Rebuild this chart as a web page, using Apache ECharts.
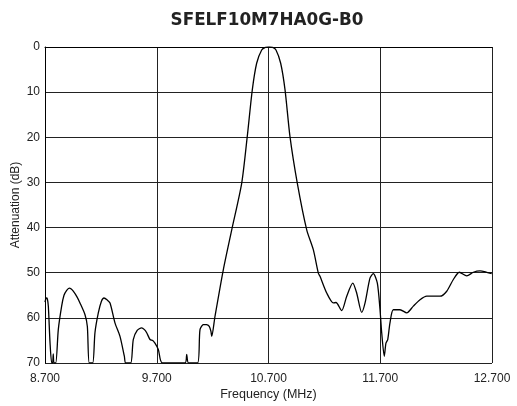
<!DOCTYPE html>
<html><head><meta charset="utf-8">
<script src="https://cdn.jsdelivr.net/npm/echarts@6/dist/echarts.min.js"></script>
<style>html,body{margin:0;padding:0;background:#fff}#c{width:517px;height:406px}</style>
</head><body><div id="c"></div>
<script>
const titleText = "SFELF10M7HA0G-B0";
const xTickLabels = ["8.700", "9.700", "10.700", "11.700", "12.700"];
const yTickLabels = [0, 10, 20, 30, 40, 50, 60, 70];
const freq = [8.700, 8.712, 8.721, 8.730, 8.745, 8.760, 8.768, 8.774, 8.780, 8.796, 8.819, 8.849, 8.870, 8.894, 8.917, 8.935, 8.953, 8.985, 9.013, 9.058, 9.079, 9.096, 9.127, 9.147, 9.177, 9.205, 9.228, 9.255, 9.282, 9.326, 9.371, 9.410, 9.422, 9.467, 9.490, 9.525, 9.565, 9.590, 9.610, 9.640, 9.664, 9.684, 9.714, 9.750, 9.953, 9.968, 9.984, 10.065, 10.087, 10.117, 10.145, 10.170, 10.185, 10.192, 10.221, 10.296, 10.371, 10.460, 10.510, 10.555, 10.594, 10.639, 10.672, 10.704, 10.737, 10.767, 10.809, 10.848, 10.892, 10.958, 11.042, 11.101, 11.146, 11.161, 11.221, 11.280, 11.304, 11.355, 11.400, 11.454, 11.489, 11.534, 11.564, 11.608, 11.638, 11.674, 11.698, 11.713, 11.736, 11.751, 11.767, 11.787, 11.817, 11.877, 11.937, 11.996, 12.056, 12.116, 12.235, 12.295, 12.354, 12.408, 12.474, 12.533, 12.593, 12.653, 12.697];
const atten = [56.5, 55.6, 55.8, 57.5, 65.5, 70, 70, 68, 70, 70, 62.6, 57.4, 55.0, 53.9, 53.4, 53.6, 54.1, 55.3, 56.7, 59.3, 61.9, 70, 70, 63.3, 58.9, 56.3, 55.6, 56.0, 56.7, 61.1, 64.1, 68.5, 70, 70, 64.8, 62.8, 62.2, 62.6, 63.3, 64.8, 65.0, 65.6, 67.0, 70, 70, 68.1, 70, 70, 62.6, 61.5, 61.5, 61.9, 63.0, 64.1, 59.7, 49.3, 40.5, 30.2, 19.8, 9.5, 3.6, 0.66, 0.1, 0, 0.1, 0.66, 3.6, 9.5, 19.8, 30.2, 40.5, 44.9, 50.1, 50.8, 54.5, 56.7, 56.6, 58.4, 55.2, 52.3, 54.5, 58.8, 56.7, 51.2, 50.2, 52.3, 58.2, 63.3, 68.5, 65.6, 64.8, 61.1, 58.2, 58.2, 58.9, 57.4, 56.0, 55.2, 55.2, 54.1, 51.5, 49.9, 50.7, 49.9, 49.6, 49.9, 50.2];

const xStart = parseFloat(xTickLabels[0]);
const chart = echarts.init(document.getElementById('c'));
chart.setOption({
  animation: false,
  title: { text: titleText, left: 262, textAlign: 'center', top: 7,
    textStyle: { fontFamily: 'DejaVu Sans', fontWeight: 'bold', fontSize: 16.8, color: '#222' } },
  grid: { left: 45, right: 25, top: 47, bottom: 43, outerBoundsMode: 'none', containLabel: false },
  xAxis: {
    type: 'value', min: 0, max: xTickLabels.length - 1, interval: 1,
    name: 'Frequency (MHz)', nameLocation: 'middle', nameGap: 25, nameMoveOverlap: false,
    nameTextStyle: { fontFamily: 'Liberation Sans', fontSize: 12.5, color: '#222' },
    axisLine: { show: true, lineStyle: { color: '#000', width: 1 } },
    axisTick: { show: false },
    axisLabel: { fontFamily: 'Liberation Sans', fontSize: 12, color: '#222', margin: 10,
      formatter: v => xTickLabels[Math.round(v)] },
    splitLine: { show: true, lineStyle: { color: '#222', width: 1 } }
  },
  yAxis: {
    type: 'value', inverse: true, min: 0, max: 70, interval: 10,
    name: 'Attenuation (dB)', nameLocation: 'middle', nameGap: 23, nameRotate: 90, nameMoveOverlap: false,
    nameTextStyle: { fontFamily: 'Liberation Sans', fontSize: 12, color: '#222' },
    axisLine: { show: true, lineStyle: { color: '#000', width: 1 } },
    axisTick: { show: false },
    axisLabel: { fontFamily: 'Liberation Sans', fontSize: 12, color: '#222', margin: 5 },
    splitLine: { show: true, lineStyle: { color: '#222', width: 1 } }
  },
  series: [{
    type: 'line', showSymbol: false, smooth: 0.25,
    lineStyle: { color: '#000', width: 1.3 },
    data: freq.map((f, i) => [f - xStart, atten[i]])
  }]
});
</script></body></html>
